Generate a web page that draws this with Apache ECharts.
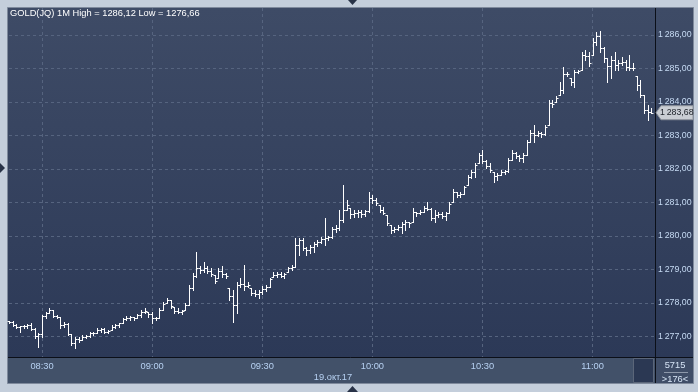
<!DOCTYPE html>
<html><head><meta charset="utf-8">
<script src="https://cdn.jsdelivr.net/npm/echarts@6/dist/echarts.min.js"></script>
<style>html,body{margin:0;padding:0;background:#c4cedb;}#c{width:698px;height:392px;}</style>
</head><body><div id="c"></div>
<script>
// ---- data ----
const startLabel = '08:21';
const barCount = 176;
const openVals = [1277.45,1277.43,1277.34,1277.28,1277.31,1277.31,1277.34,1277.22,1277.02,1277.08,
1277.61,1277.70,1277.79,1277.61,1277.58,1277.34,1277.37,1277.08,1276.81,1276.93,
1276.90,1276.99,1277.02,1277.10,1277.10,1277.19,1277.22,1277.13,1277.19,1277.28,
1277.34,1277.40,1277.52,1277.55,1277.58,1277.55,1277.64,1277.73,1277.73,1277.67,
1277.55,1277.55,1277.79,1278.00,1278.09,1277.88,1277.76,1277.73,1277.79,1277.94,
1278.45,1278.81,1279.05,1278.99,1279.05,1278.96,1278.84,1278.75,1278.96,1278.87,
1278.45,1278.21,1277.94,1278.54,1278.57,1278.51,1278.45,1278.30,1278.27,1278.33,
1278.42,1278.48,1278.78,1278.84,1278.87,1278.81,1278.93,1279.05,1279.07,1279.73,
1279.88,1279.64,1279.58,1279.67,1279.76,1279.82,1279.91,1279.94,1279.97,1280.21,
1280.24,1280.48,1280.78,1280.84,1280.66,1280.69,1280.72,1280.66,1280.75,1281.13,
1281.07,1280.93,1280.78,1280.63,1280.33,1280.18,1280.21,1280.27,1280.36,1280.42,
1280.42,1280.72,1280.69,1280.72,1280.84,1280.81,1280.54,1280.63,1280.66,1280.60,
1280.69,1281.02,1281.31,1281.22,1281.25,1281.52,1281.76,1281.91,1282.18,1282.42,
1282.24,1282.09,1281.91,1281.79,1281.82,1281.91,1281.94,1282.27,1282.48,1282.39,
1282.33,1282.42,1282.81,1283.08,1283.02,1283.08,1283.05,1283.31,1283.97,1284.00,
1284.21,1284.36,1284.84,1284.72,1284.60,1284.90,1284.96,1285.40,1285.37,1285.40,
1285.79,1285.97,1285.61,1285.31,1285.07,1285.25,1285.10,1285.16,1285.19,1285.05,
1285.02,1284.78,1284.51,1284.21,1283.76,1283.70];
const highVals = [1277.46,1277.46,1277.37,1277.31,1277.34,1277.37,1277.40,1277.25,1277.10,1277.64,
1277.73,1277.85,1277.79,1277.64,1277.58,1277.43,1277.40,1277.08,1276.99,1276.99,
1277.05,1277.05,1277.13,1277.13,1277.25,1277.25,1277.25,1277.19,1277.34,1277.37,
1277.40,1277.55,1277.61,1277.61,1277.58,1277.67,1277.79,1277.85,1277.73,1277.73,
1277.58,1277.85,1278.03,1278.15,1278.09,1277.88,1277.85,1277.79,1278.00,1278.54,
1278.90,1279.52,1279.10,1279.22,1279.10,1279.05,1278.84,1279.05,1279.10,1278.90,
1278.45,1278.39,1278.63,1278.75,1279.13,1278.63,1278.45,1278.39,1278.39,1278.51,
1278.54,1278.75,1278.93,1278.93,1278.93,1278.90,1279.07,1279.13,1279.94,1279.94,
1279.94,1279.67,1279.73,1279.82,1279.88,1279.97,1280.54,1280.00,1280.27,1280.33,
1280.78,1281.52,1281.07,1280.84,1280.78,1280.78,1280.78,1280.78,1281.31,1281.22,
1281.13,1280.93,1280.87,1280.63,1280.33,1280.27,1280.33,1280.42,1280.48,1280.42,
1280.84,1280.72,1280.78,1280.90,1281.02,1280.84,1280.78,1280.72,1280.72,1280.72,
1281.02,1281.40,1281.31,1281.31,1281.49,1281.82,1281.97,1282.18,1282.48,1282.57,
1282.27,1282.18,1281.91,1281.88,1281.97,1281.97,1282.33,1282.57,1282.51,1282.42,
1282.48,1282.87,1283.16,1283.31,1283.13,1283.10,1283.31,1284.06,1284.06,1284.18,
1284.60,1285.05,1284.90,1284.72,1284.96,1284.96,1285.49,1285.55,1285.49,1285.91,
1286.09,1286.12,1285.64,1285.31,1285.37,1285.49,1285.25,1285.34,1285.25,1285.40,
1285.16,1284.78,1284.66,1284.21,1283.91,1283.82];
const lowVals = [1277.40,1277.31,1277.25,1277.13,1277.25,1277.25,1277.19,1276.96,1276.69,1276.99,
1277.55,1277.70,1277.58,1277.55,1277.25,1277.28,1277.05,1276.75,1276.66,1276.84,
1276.90,1276.96,1276.99,1277.05,1277.10,1277.13,1277.10,1277.10,1277.19,1277.25,
1277.28,1277.40,1277.49,1277.49,1277.49,1277.55,1277.58,1277.70,1277.58,1277.40,
1277.49,1277.55,1277.79,1278.00,1277.85,1277.70,1277.70,1277.67,1277.79,1277.94,
1278.39,1278.78,1278.90,1278.93,1278.90,1278.81,1278.60,1278.75,1278.78,1278.75,
1278.09,1277.43,1277.70,1278.48,1278.39,1278.48,1278.24,1278.21,1278.15,1278.27,
1278.36,1278.48,1278.78,1278.78,1278.78,1278.75,1278.93,1278.99,1279.07,1279.43,
1279.58,1279.43,1279.49,1279.52,1279.70,1279.79,1279.73,1279.88,1279.94,1280.12,
1280.18,1280.42,1280.78,1280.54,1280.57,1280.57,1280.57,1280.60,1280.72,1280.99,
1280.93,1280.72,1280.66,1280.33,1280.09,1280.12,1280.18,1280.09,1280.18,1280.27,
1280.42,1280.60,1280.66,1280.72,1280.78,1280.48,1280.42,1280.57,1280.54,1280.48,
1280.69,1281.02,1281.16,1281.16,1281.25,1281.52,1281.73,1281.76,1282.18,1282.18,
1282.03,1281.91,1281.61,1281.67,1281.82,1281.85,1281.91,1282.27,1282.33,1282.24,
1282.21,1282.42,1282.81,1282.81,1282.99,1282.96,1283.02,1283.31,1283.85,1284.00,
1284.21,1284.27,1284.78,1284.51,1284.45,1284.87,1284.96,1285.25,1285.07,1285.40,
1285.70,1285.49,1285.19,1284.60,1284.72,1284.96,1284.96,1285.10,1284.96,1284.96,
1284.96,1284.36,1284.15,1283.67,1283.46,1283.67];
const closeVals = [1277.43,1277.34,1277.28,1277.31,1277.31,1277.34,1277.22,1277.02,1277.08,1277.61,
1277.70,1277.79,1277.61,1277.58,1277.34,1277.37,1277.08,1276.81,1276.93,1276.90,
1276.99,1277.02,1277.10,1277.10,1277.19,1277.22,1277.13,1277.16,1277.28,1277.34,
1277.40,1277.52,1277.55,1277.58,1277.55,1277.64,1277.73,1277.76,1277.67,1277.55,
1277.55,1277.79,1277.97,1278.09,1277.91,1277.76,1277.73,1277.76,1277.94,1278.45,
1278.81,1279.05,1278.99,1279.05,1278.96,1278.87,1278.66,1278.96,1278.87,1278.81,
1278.21,1277.94,1278.54,1278.57,1278.51,1278.54,1278.30,1278.27,1278.33,1278.42,
1278.48,1278.72,1278.84,1278.87,1278.81,1278.87,1279.05,1279.07,1279.73,1279.88,
1279.64,1279.58,1279.67,1279.76,1279.82,1279.91,1279.94,1279.97,1280.21,1280.24,
1280.48,1280.78,1280.93,1280.66,1280.69,1280.72,1280.66,1280.75,1281.13,1281.07,
1280.99,1280.78,1280.69,1280.39,1280.18,1280.21,1280.27,1280.36,1280.42,1280.39,
1280.72,1280.69,1280.72,1280.84,1280.81,1280.54,1280.63,1280.66,1280.60,1280.69,
1280.96,1281.31,1281.22,1281.25,1281.46,1281.76,1281.91,1282.12,1282.42,1282.24,
1282.09,1281.97,1281.79,1281.82,1281.91,1281.94,1282.27,1282.48,1282.39,1282.33,
1282.42,1282.81,1283.08,1283.02,1283.08,1283.05,1283.25,1283.97,1283.94,1284.12,
1284.36,1284.84,1284.84,1284.60,1284.90,1284.93,1285.40,1285.37,1285.16,1285.79,
1285.97,1285.61,1285.31,1285.07,1285.25,1285.10,1285.16,1285.19,1285.05,1285.02,
1285.02,1284.51,1284.21,1283.76,1283.70,1283.68];
const titleText = 'GOLD(JQ) 1M High = 1286,12 Low = 1276,66';
const dateText = '19.окт.17';
const volumeText = '5715';
const countText = '>176<';
const yMin = 1276.389, yMax = 1286.806;

// categories: one per minute, 08:21 .. 11:17
const categories = [];
{
  let [h, m] = startLabel.split(':').map(Number);
  for (let k = 0; k <= barCount; k++) {
    categories.push(String(h).padStart(2,'0') + ':' + String(m).padStart(2,'0'));
    m++; if (m === 60) { m = 0; h++; }
  }
}
const ohlc = openVals.map((o, i) => [i, o, closeVals[i], lowVals[i], highVals[i]]);

function fmtPrice(v) {
  const s = v.toFixed(2).replace('.', ',');
  return s.slice(0, s.length - 6) + '\u2009' + s.slice(s.length - 6);
}
const FONT = 'Liberation Sans, Arial, sans-serif';
const isMajor = (idx, val) => /:(00|30)$/.test(val);

const chart = echarts.init(document.getElementById('c'), null, {renderer: 'canvas'});
const plotGrad = new echarts.graphic.LinearGradient(0, 0, 0, 1, [
  {offset: 0, color: '#3e4b66'}, {offset: 1, color: '#2c3957'}]);

chart.setOption({
  animation: false,
  backgroundColor: '#c4cedb',
  grid: {left: 9, width: 646, top: 8, bottom: 35, containLabel: false},
  xAxis: {
    type: 'category', data: categories, boundaryGap: false,
    axisLine: {show: false}, axisTick: {show: false},
    axisLabel: {interval: isMajor, color: '#b7d1f2', fontSize: 9.3, fontFamily: FONT, margin: 5},
    splitLine: {show: true, interval: isMajor, lineStyle: {color: '#56647f', type: [3, 3], width: 1}}
  },
  yAxis: {
    type: 'value', position: 'right', min: yMin, max: yMax, scale: true,
    splitNumber: 10, minInterval: 1, maxInterval: 1,
    axisLine: {show: false}, axisTick: {show: false},
    axisLabel: {color: '#c6daf3', fontSize: 8.8, fontFamily: FONT, margin: 3, align: 'left',
      showMinLabel: false, showMaxLabel: false, formatter: fmtPrice},
    splitLine: {show: true, showMinLine: false, showMaxLine: false,
      lineStyle: {color: '#56647f', type: [3, 3], width: 1}}
  },
  series: [{
    type: 'custom',
    data: ohlc,
    encode: {x: 0, y: [1, 2, 3, 4]},
    clip: false,
    renderItem: function (params, api) {
      const i = api.value(0);
      const pO = api.coord([i, api.value(1)]);
      const pC = api.coord([i, api.value(2)]);
      const pL = api.coord([i, api.value(3)]);
      const pH = api.coord([i, api.value(4)]);
      const x = Math.round(pO[0]) + 0.5;
      const yH = Math.round(pH[1]), yL = Math.round(pL[1]);
      const yO = Math.round(pO[1]) + 0.5, yC = Math.round(pC[1]) + 0.5;
      const st = {stroke: '#ffffff', lineWidth: 1};
      return {type: 'group', children: [
        {type: 'line', shape: {x1: x, y1: yH, x2: x, y2: Math.max(yL + 1, yH + 1)}, style: st},
        {type: 'line', shape: {x1: x - 2, y1: yO, x2: x, y2: yO}, style: st},
        {type: 'line', shape: {x1: x, y1: yC, x2: x + 2, y2: yC}, style: st}
      ]};
    },
    z: 5
  }],
  graphic: [
    {type: 'rect', z: -10, silent: true, shape: {x: 7.5, y: 7.5, width: 686, height: 376}, style: {fill: '#3a4762', stroke: '#7f8a9c', lineWidth: 1}},
    {type: 'rect', z: -9, silent: true, shape: {x: 8, y: 8, width: 647, height: 349}, style: {fill: plotGrad}},
    {type: 'rect', z: -9, silent: true, shape: {x: 656, y: 8, width: 37, height: 349}, style: {fill: plotGrad}},
    {type: 'rect', z: -9, silent: true, shape: {x: 8, y: 358, width: 647, height: 25}, style: {fill: '#425169'}},
    {type: 'rect', z: -9, silent: true, shape: {x: 656, y: 358, width: 37, height: 25}, style: {fill: '#3f4d67'}},
    {type: 'rect', z: -8, silent: true, shape: {x: 633.5, y: 358.5, width: 20, height: 24}, style: {fill: '#2b3853', stroke: '#5b6679', lineWidth: 1}},
    {type: 'line', z: 20, silent: true, shape: {x1: 8, y1: 357.5, x2: 693, y2: 357.5}, style: {stroke: '#0b0f18', lineWidth: 1}},
    {type: 'line', z: 20, silent: true, shape: {x1: 655.5, y1: 8, x2: 655.5, y2: 383}, style: {stroke: '#0b0f18', lineWidth: 1}},
    {type: 'line', z: 20, silent: true, shape: {x1: 664, y1: 372.5, x2: 688, y2: 372.5}, style: {stroke: '#8d98aa', lineWidth: 1}},
    {type: 'text', z: 20, silent: true, style: {x: 10, y: 9, text: titleText, fill: '#ffffff', font: '9.3px ' + FONT, textVerticalAlign: 'top'}},
    {type: 'text', z: 20, silent: true, style: {x: 333, y: 377, text: dateText, fill: '#b7d1f2', font: '9.3px ' + FONT, textAlign: 'center', textVerticalAlign: 'middle'}},
    {type: 'text', z: 20, silent: true, style: {x: 675, y: 365, text: volumeText, fill: '#d6e4f5', font: '9.3px ' + FONT, textAlign: 'center', textVerticalAlign: 'middle'}},
    {type: 'text', z: 20, silent: true, style: {x: 675, y: 379, text: countText, fill: '#d6e4f5', font: '9.3px ' + FONT, textAlign: 'center', textVerticalAlign: 'middle'}},
    {type: 'polygon', z: 20, silent: true, shape: {points: [[348, 0], [357, 0], [352.5, 5]]}, style: {fill: '#283247'}},
    {type: 'polygon', z: 20, silent: true, shape: {points: [[0, 163], [0, 173], [5, 168]]}, style: {fill: '#283247'}},
    {type: 'polygon', z: 20, silent: true, shape: {points: [[347, 392], [358, 392], [352.5, 386]]}, style: {fill: '#283247'}}
  ]
});

// last-price marker placed through the value axis scale
const lastClose = closeVals[closeVals.length - 1];
const ly = chart.convertToPixel({gridIndex: 0}, [0, lastClose])[1];
const opt = chart.getOption();
const g = opt.graphic[0].elements.slice();
g.push({type: 'polygon', z: 30, silent: true, shape: {points: [[656, ly], [661, ly - 7], [693, ly - 7], [693, ly + 7], [661, ly + 7]]}, style: {fill: '#c9cdd3', stroke: '#8d939c', lineWidth: 1}});
g.push({type: 'text', z: 31, silent: true, style: {x: 660, y: ly, text: fmtPrice(lastClose), fill: '#1b1f27', font: '8.8px ' + FONT, textVerticalAlign: 'middle'}});
chart.setOption({graphic: g});
</script></body></html>
